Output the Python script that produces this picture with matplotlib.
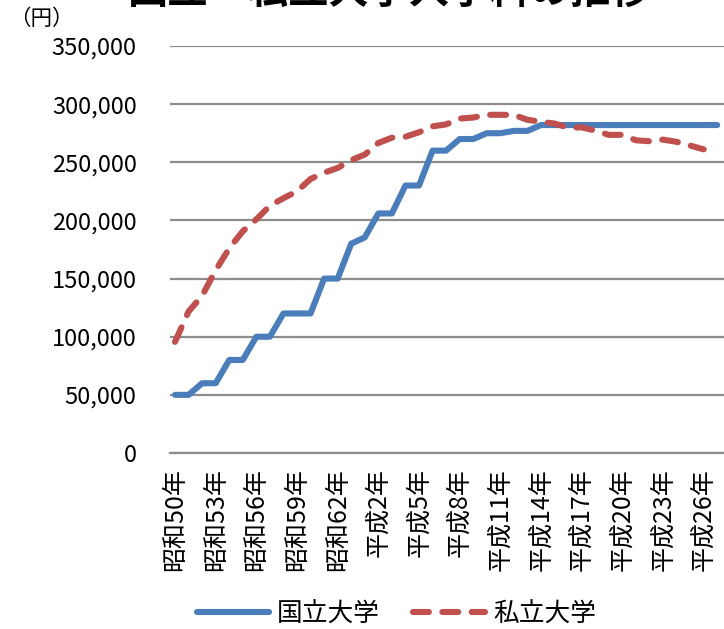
import matplotlib
matplotlib.use('Agg')
import matplotlib.pyplot as plt
from matplotlib.ticker import FuncFormatter

plt.rcParams['font.family'] = ['Noto Sans CJK JP', 'DejaVu Sans']

# Fiscal years, Showa 50 (1975) to Heisei 27 (2015)
years = ['昭和%d年' % y for y in range(50, 64)] + \
        ['平成%d年' % y for y in range(1, 28)]

# Entrance fee (yen), national universities
national = [50000, 50000, 60000, 60000, 80000, 80000, 100000, 100000,
            120000, 120000, 120000, 150000, 150000, 180000, 185400,
            206000, 206000, 230000, 230000, 260000, 260000, 270000,
            270000, 275000, 275000, 277000, 277000, 282000, 282000,
            282000, 282000, 282000, 282000, 282000, 282000, 282000,
            282000, 282000, 282000, 282000, 282000]

# Entrance fee (yen), private universities (average), up to Heisei 26
private = [95584, 121665, 135205, 157131, 175999, 190697, 200936, 212627,
           219126, 225016, 235654, 241034, 245112, 251873, 256600, 266603,
           271151, 271948, 275824, 280892, 282574, 287581, 288471, 290799,
           290815, 290691, 286528, 284828, 283306, 279794, 280033, 277262,
           273564, 273602, 268924, 268056, 269481, 267608, 264390, 261089]

series_names = ['国立大学', '私立大学']
title = '国立・私立大学入学料の推移'

blue = '#4A7EBB'
red = '#C0504D'
grid_col = '#8C8C8C'

fig = plt.figure(figsize=(7.24, 6.29), dpi=100)
ax = fig.add_axes([0.2348, 0.2798, 0.7652, 0.6471])

ax.plot(range(len(national)), national, color=blue, lw=4.4,
        solid_capstyle='round', solid_joinstyle='round', label=series_names[0])
ax.plot(range(len(private)), private, color=red, lw=4.4,
        dashes=(2.6, 2.2), dash_capstyle='round', dash_joinstyle='round',
        label=series_names[1])

ax.set_ylim(0, 350000)
ax.set_xlim(-0.37, 40.5)
ax.set_yticks(range(0, 350001, 50000))
ax.yaxis.set_major_formatter(FuncFormatter(lambda v, p: '{:,.0f}'.format(v)))
ax.grid(axis='y', color=grid_col, lw=1.6)
ax.set_axisbelow(True)

ticks = list(range(0, len(years), 3))
ax.set_xticks(ticks)
ax.set_xticklabels([years[i] for i in ticks], rotation=90, fontsize=18)
ax.tick_params(axis='x', length=0, pad=11)
ax.tick_params(axis='y', length=0, pad=24, labelsize=17)

for s in ['top', 'right', 'left']:
    ax.spines[s].set_visible(False)
ax.spines['bottom'].set_color(grid_col)
ax.spines['bottom'].set_linewidth(1.6)

fig.text(0.012, 0.97, '（円）', fontsize=15.5, ha='left', va='center')
fig.text(0.538, 0.996, title, fontsize=29, fontweight='bold',
         ha='center', va='baseline')

fig.legend(loc='lower center', bbox_to_anchor=(0.548, -0.026), ncol=2,
           frameon=False, fontsize=18.5, handlelength=2.8, handletextpad=0.3,
           columnspacing=1.3, borderpad=0.2)

fig.savefig('out.png', dpi=100)
